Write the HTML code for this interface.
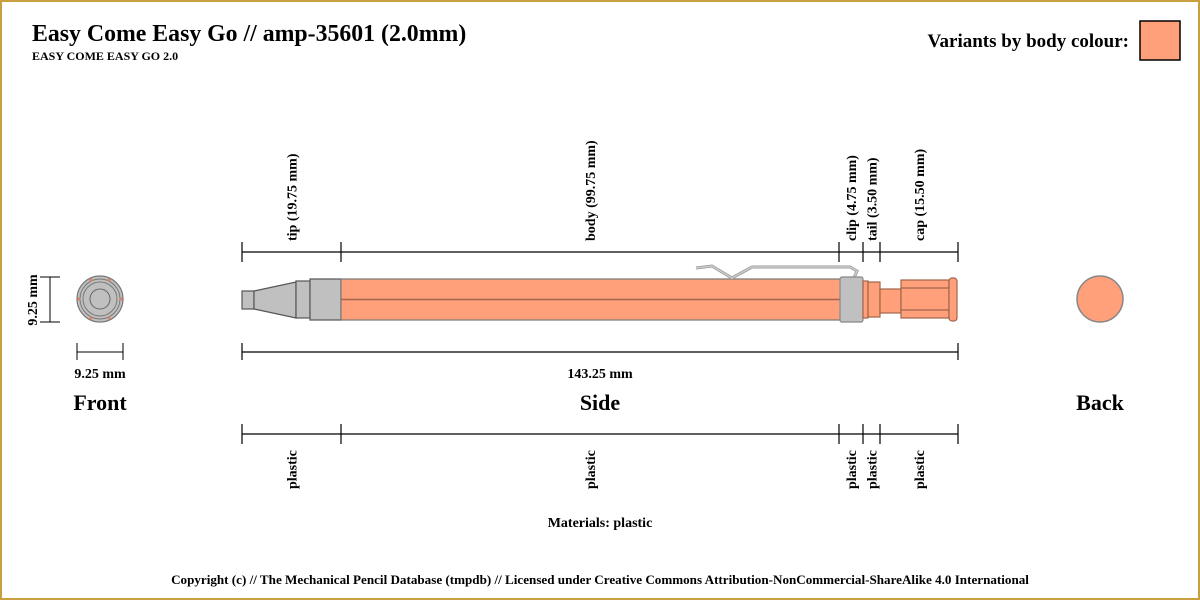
<!DOCTYPE html>
<html><head><meta charset="utf-8"><style>body{margin:0}svg{display:block}text{font-family:"Liberation Serif",serif;font-weight:bold;fill:#000}</style></head>
<body>
<svg id="main" width="1200" height="600" viewBox="0 0 1200 600">
<rect x="1" y="1" width="1198" height="598" fill="#fff" stroke="#c8a040" stroke-width="2"/>
<text x="32" y="41" font-size="23.8">Easy Come Easy Go // amp-35601 (2.0mm)</text>
<text x="32" y="60" font-size="12">EASY COME EASY GO 2.0</text>
<text x="1129" y="47" font-size="19" text-anchor="end">Variants by body colour:</text>
<rect x="1140" y="21" width="40" height="39" fill="#ffa07a" stroke="#000" stroke-width="1.5"/>

<g>
<line x1="40" y1="277" x2="60" y2="277" stroke="#000"/><line x1="40" y1="322" x2="60" y2="322" stroke="#000"/><line x1="50" y1="277" x2="50" y2="322" stroke="#000"/>
<text transform="translate(37,300) rotate(-90)" font-size="14" text-anchor="middle">9.25 mm</text>
<circle cx="100" cy="299" r="23" fill="#c0c0c0" stroke="#777" stroke-width="1.2"/>
<circle cx="100" cy="299" r="20" fill="none" stroke="#777"/>
<circle cx="100" cy="299" r="17" fill="#c0c0c0" stroke="#777"/>
<circle cx="100" cy="299" r="10" fill="#c0c0c0" stroke="#666"/>
<g fill="#e08060"><circle cx="91" cy="280" r="1.5"/><circle cx="109" cy="280" r="1.5"/><circle cx="91" cy="318" r="1.5"/><circle cx="109" cy="318" r="1.5"/><circle cx="79" cy="299" r="1.5"/><circle cx="121" cy="299" r="1.5"/></g>
<line x1="77" y1="343" x2="77" y2="360" stroke="#000"/><line x1="123" y1="343" x2="123" y2="360" stroke="#000"/><line x1="77" y1="352" x2="123" y2="352" stroke="#000"/>
<text x="100" y="378" font-size="14" text-anchor="middle">9.25 mm</text>
<text x="100" y="410" font-size="22" text-anchor="middle">Front</text>
</g>

<g>
<circle cx="1100" cy="299" r="23" fill="#ffa07a" stroke="#888" stroke-width="1.5"/>
<text x="1100" y="410" font-size="22" text-anchor="middle">Back</text>
</g>

<g stroke-width="1.2">
<rect x="242" y="291" width="12" height="18" fill="#c0c0c0" stroke="#555"/>
<polygon points="254,291 296,282 296,318 254,309" fill="#c0c0c0" stroke="#555"/>
<rect x="296" y="281" width="14" height="37" fill="#c0c0c0" stroke="#555"/>
<rect x="310" y="279" width="31" height="41" fill="#c0c0c0" stroke="#555"/>
<rect x="341" y="279" width="500" height="41" fill="#ffa07a" stroke="#777"/>
<line x1="341" y1="299.5" x2="840" y2="299.5" stroke="#a0644a" stroke-width="1.5"/>
<polyline points="696,268 712,266 732,278 752,267 850,267 857,271 854,278" fill="none" stroke="#999" stroke-width="3"/>
<polyline points="696,268 712,266 732,278 752,267 850,267 857,271 854,278" fill="none" stroke="#ccc" stroke-width="1.5"/>
<rect x="840" y="277" width="23" height="45" rx="2" fill="#c0c0c0" stroke="#888"/>
<rect x="863" y="281" width="5" height="37" fill="#ffa07a" stroke="#a0644a"/>
<rect x="868" y="282" width="12" height="35" fill="#ffa07a" stroke="#a0644a"/>
<rect x="880" y="289" width="21" height="24" fill="#ffa07a" stroke="#a0644a"/>
<rect x="901" y="280" width="48" height="38" fill="#ffa07a" stroke="#a0644a"/>
<line x1="901" y1="288" x2="949" y2="288" stroke="#a0644a"/><line x1="901" y1="310" x2="949" y2="310" stroke="#a0644a"/>
<rect x="949" y="278" width="8" height="43" rx="3" fill="#ffa07a" stroke="#a0644a"/>
</g>

<g stroke="#000" stroke-width="1.2">
<line x1="242" y1="343" x2="242" y2="360"/><line x1="958" y1="343" x2="958" y2="360"/><line x1="242" y1="352" x2="958" y2="352"/>
</g>
<text x="600" y="378" font-size="14" text-anchor="middle">143.25 mm</text>
<text x="600" y="410" font-size="22" text-anchor="middle">Side</text>
<text x="600" y="527" font-size="14" text-anchor="middle">Materials: plastic</text>
<text x="600" y="584" font-size="13.1" text-anchor="middle">Copyright (c) // The Mechanical Pencil Database (tmpdb) // Licensed under Creative Commons Attribution-NonCommercial-ShareAlike 4.0 International</text>
</svg>
<script>
var segNames=["tip (19.75 mm)","body (99.75 mm)","clip (4.75 mm)","tail (3.50 mm)","cap (15.50 mm)"];
var segMaterials=["plastic","plastic","plastic","plastic","plastic"];
var segBounds=[242,341,839,863,880,958];
var NS="http://www.w3.org/2000/svg";
var root=document.getElementById('main');
function ln(x1,y1,x2,y2,name){
var l=document.createElementNS(NS,'line');
l.setAttribute('x1',x1);l.setAttribute('y1',y1);l.setAttribute('x2',x2);l.setAttribute('y2',y2);
l.setAttribute('stroke','#000');l.setAttribute('stroke-width','1.2');


root.appendChild(l);
}
function tx(x,y,s,name){
var t=document.createElementNS(NS,'text');
t.setAttribute('transform','translate('+x+','+y+') rotate(-90)');
t.setAttribute('font-size','14');
t.textContent=s;


root.appendChild(t);
}
var rows=[252,434];
for(var r=0;r<rows.length;r++){
var y=rows[r];
ln(segBounds[0],y,segBounds[segBounds.length-1],y,r===0?'dimension-line':'material-line');
for(var b=0;b<segBounds.length;b++){ln(segBounds[b],y-10,segBounds[b],y+10,'dimension-tick');}
}
for(var i=0;i<segNames.length;i++){
var cx=(segBounds[i]+segBounds[i+1])/2+5;
tx(cx,241,segNames[i],'segment-label');
tx(cx,489,segMaterials[i],'material-label');
}
</script>
</body></html>
